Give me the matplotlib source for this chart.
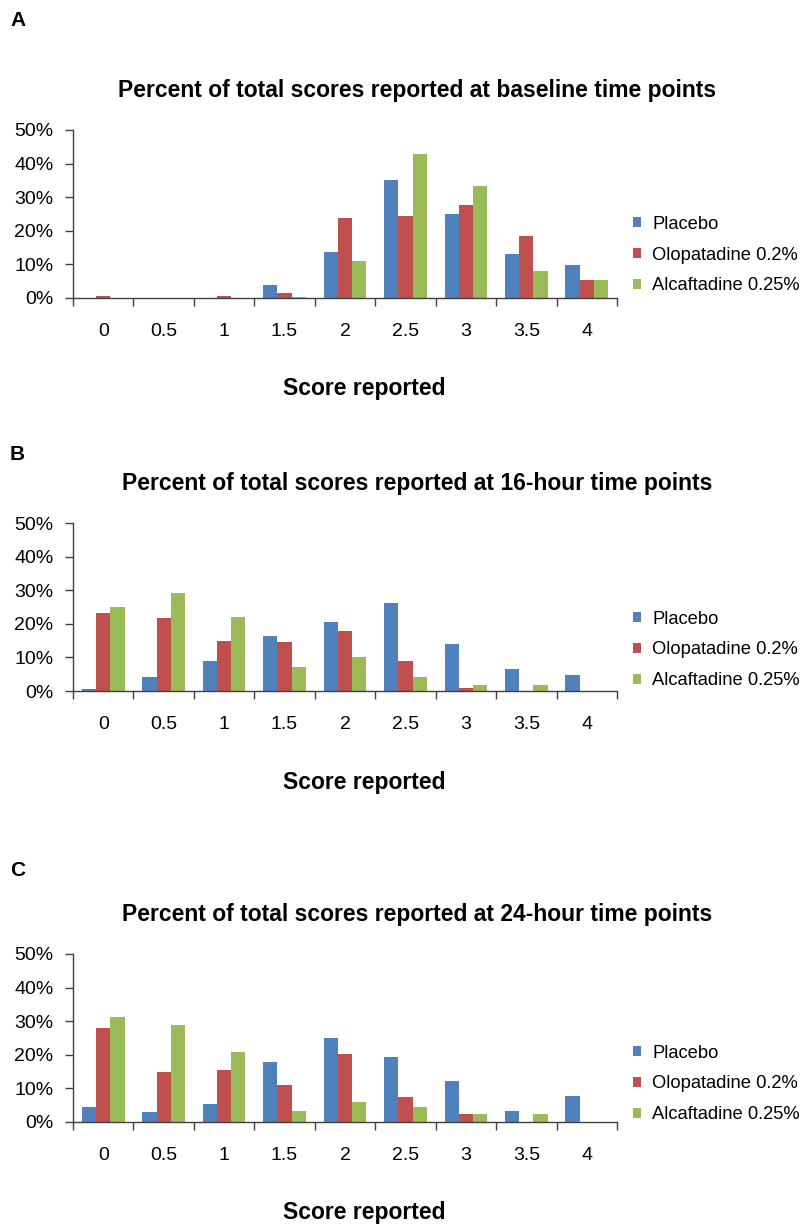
import numpy as np
import matplotlib
matplotlib.use("Agg")
import matplotlib.pyplot as plt
from matplotlib.ticker import FuncFormatter

plt.rcParams['font.family'] = ['Liberation Sans', 'DejaVu Sans']

scores = ['0', '0.5', '1', '1.5', '2', '2.5', '3', '3.5', '4']
series = ['Placebo', 'Olopatadine 0.2%', 'Alcaftadine 0.25%']
colors = ['#4F81BD', '#C0504D', '#9BBB59']

# percent of total scores
base_placebo = [0.0, 0.0, 0.0, 3.8, 13.8, 35.1, 25.0, 13.2, 9.7]
base_olopat = [0.5, 0.0, 0.5, 1.6, 23.9, 24.4, 27.7, 18.5, 5.5]
base_alcaf = [0.0, 0.0, 0.0, 0.4, 10.9, 42.9, 33.3, 7.9, 5.5]

h16_placebo = [0.6, 4.2, 8.9, 16.3, 20.5, 26.1, 14.0, 6.5, 4.8]
h16_olopat = [23.2, 21.7, 14.9, 14.6, 17.8, 8.9, 0.9, 0.0, 0.0]
h16_alcaf = [25.0, 29.1, 22.0, 7.1, 10.1, 4.2, 1.8, 1.8, 0.0]

h24_placebo = [4.6, 3.1, 5.5, 18.0, 25.1, 19.4, 12.3, 3.4, 7.8]
h24_olopat = [28.1, 15.0, 15.6, 11.1, 20.3, 7.5, 2.3, 0.0, 0.0]
h24_alcaf = [31.3, 29.0, 20.9, 3.4, 6.1, 4.6, 2.3, 2.5, 0.0]

panels = [
    ('A', 'Percent of total scores reported at baseline time points',
     [base_placebo, base_olopat, base_alcaf]),
    ('B', 'Percent of total scores reported at 16-hour time points',
     [h16_placebo, h16_olopat, h16_alcaf]),
    ('C', 'Percent of total scores reported at 24-hour time points',
     [h24_placebo, h24_olopat, h24_alcaf]),
]

W, H = 806, 1226
fig = plt.figure(figsize=(W / 100, H / 100), dpi=100)

# pixel layout of each panel: (axis top, axis bottom, letter y, title y, xlabel y, legend y)
layout = [
    (130, 298, 20, 91, 388, 255),
    (523, 691, 455, 484, 782, 650),
    (954, 1122, 870, 915, 1213, 1084),
]

x = np.arange(len(scores))
bw = 0.235

for (letter, title, vals), (top, bot, ly, ty, xly, legy) in zip(panels, layout):
    ax = fig.add_axes([73 / W, 1 - bot / H, (617 - 73) / W, (bot - top) / H])
    for i, (v, c, name) in enumerate(zip(vals, colors, series)):
        ax.bar(x + (i - 1) * bw, v, bw, color=c, label=name)
    ax.set_xlim(-0.5, len(scores) - 0.5)
    ax.set_ylim(0, 50)
    ax.set_yticks(range(0, 51, 10))
    ax.yaxis.set_major_formatter(FuncFormatter(lambda v, p: f'{int(v)}%'))
    ax.set_xticks(x)
    ax.set_xticklabels(scores)
    ax.set_xticks(np.arange(-0.5, len(scores), 1), minor=True)
    ax.tick_params(axis='x', which='major', length=0, pad=18, labelsize=14)
    ax.tick_params(axis='x', which='minor', length=6, width=1, direction='out', color='#404040')
    ax.tick_params(axis='y', length=6, width=1, direction='out', pad=8, labelsize=14, color='#404040')
    for s in ['top', 'right']:
        ax.spines[s].set_visible(False)
    for s in ['left', 'bottom']:
        ax.spines[s].set_color('#404040')
        ax.spines[s].set_linewidth(1)

    fig.text(10 / W, 1 - ly / H, letter, fontsize=15, fontweight='bold', va='center', ha='left')
    fig.text(417 / W, 1 - ty / H, title, fontsize=16.5, fontweight='bold', va='center', ha='center')
    fig.text(364 / W, 1 - xly / H, 'Score reported', fontsize=16.5, fontweight='bold', va='center', ha='center')

    ax.legend(loc='center left', bbox_to_anchor=(633 / W, 1 - legy / H), bbox_transform=fig.transFigure,
              frameon=False, fontsize=13.2, handlelength=0.45, handleheight=0.45,
              handletextpad=0.6, labelspacing=0.75, borderpad=0, borderaxespad=0)

fig.savefig('out.png', dpi=100)
